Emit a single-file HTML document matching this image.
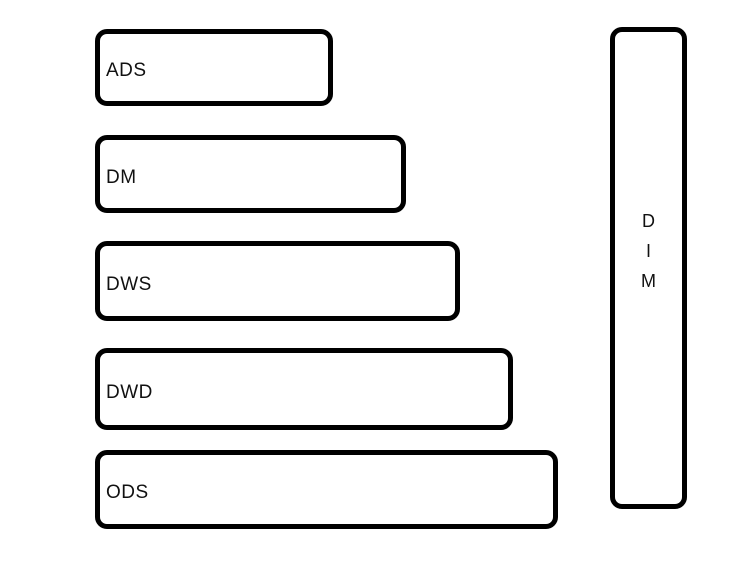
<!DOCTYPE html>
<html><head><meta charset="utf-8"><style>
html,body{margin:0;padding:0;background:#fff;}
body{width:750px;height:563px;position:relative;overflow:hidden;font-family:"Liberation Sans",sans-serif;}
.b{position:absolute;box-sizing:border-box;border:5px solid #000;border-radius:12px;background:#fff;}
.t{position:absolute;left:6px;font-size:19px;color:#111;letter-spacing:0.5px;}
</style></head><body>
<div class="b" style="left:95px;top:29px;width:238px;height:77px"><span class="t" style="top:26px">ADS</span></div>
<div class="b" style="left:95px;top:135px;width:311px;height:78px"><span class="t" style="top:27px">DM</span></div>
<div class="b" style="left:95px;top:241px;width:365px;height:80px"><span class="t" style="top:28px">DWS</span></div>
<div class="b" style="left:95px;top:348px;width:418px;height:82px"><span class="t" style="top:29px">DWD</span></div>
<div class="b" style="left:95px;top:450px;width:463px;height:79px"><span class="t" style="top:27px">ODS</span></div>
<div class="b" style="left:610px;top:27px;width:77px;height:482px">
<div style="position:absolute;left:0;right:0;top:174px;text-align:center;font-size:18px;line-height:30px;color:#111">D<br>I<br>M</div>
</div>
</body></html>
